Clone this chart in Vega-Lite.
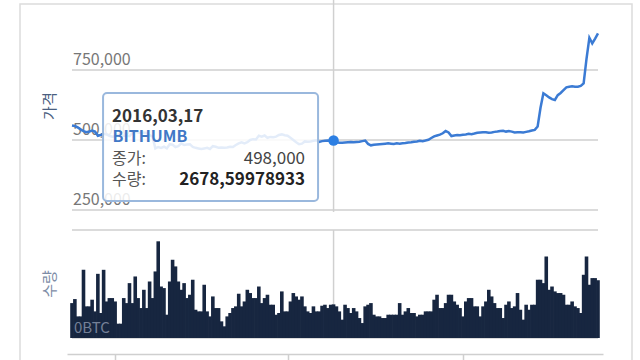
{
  "$schema": "https://vega.github.io/schema/vega-lite/v6.json",
  "width": 640,
  "height": 360,
  "autosize": {"type": "fit", "contains": "padding"},
  "padding": {"left": 20, "right": 8, "top": -1, "bottom": -1},
  "background": "white",
  "config": {
    "view": {"stroke": "#dcdcdc", "strokeWidth": 1.5},
    "font": "Noto Sans CJK KR",
    "text": {"font": "Noto Sans CJK KR"}
  },
  "datasets": {
    "daily": [
      {"date": "2015-12-17", "price": 552000, "volume": 2780},
      {"date": "2015-12-18", "price": 550000, "volume": 3100},
      {"date": "2015-12-19", "price": 545000, "volume": 1720},
      {"date": "2015-12-20", "price": 538000, "volume": 1720},
      {"date": "2015-12-21", "price": 532000, "volume": 5430},
      {"date": "2015-12-22", "price": 528000, "volume": 2520},
      {"date": "2015-12-23", "price": 530000, "volume": 2520},
      {"date": "2015-12-24", "price": 534000, "volume": 3050},
      {"date": "2015-12-25", "price": 530000, "volume": 2120},
      {"date": "2015-12-26", "price": 515000, "volume": 5110},
      {"date": "2015-12-27", "price": 518000, "volume": 1990},
      {"date": "2015-12-28", "price": 522000, "volume": 5430},
      {"date": "2015-12-29", "price": 520000, "volume": 2910},
      {"date": "2015-12-30", "price": 515000, "volume": 3180},
      {"date": "2015-12-31", "price": 512000, "volume": 3180},
      {"date": "2016-01-01", "price": 513000, "volume": 2910},
      {"date": "2016-01-02", "price": 515000, "volume": 1140},
      {"date": "2016-01-03", "price": 514000, "volume": 1140},
      {"date": "2016-01-04", "price": 516000, "volume": 3180},
      {"date": "2016-01-05", "price": 515000, "volume": 2780},
      {"date": "2016-01-06", "price": 514000, "volume": 4370},
      {"date": "2016-01-07", "price": 525000, "volume": 2780},
      {"date": "2016-01-08", "price": 530000, "volume": 4900},
      {"date": "2016-01-09", "price": 527000, "volume": 3180},
      {"date": "2016-01-10", "price": 526000, "volume": 2385},
      {"date": "2016-01-11", "price": 527000, "volume": 3840},
      {"date": "2016-01-12", "price": 525000, "volume": 2385},
      {"date": "2016-01-13", "price": 518000, "volume": 4500},
      {"date": "2016-01-14", "price": 512000, "volume": 3180},
      {"date": "2016-01-15", "price": 470000, "volume": 5300},
      {"date": "2016-01-16", "price": 475000, "volume": 7700},
      {"date": "2016-01-17", "price": 472000, "volume": 4100},
      {"date": "2016-01-18", "price": 476000, "volume": 3975},
      {"date": "2016-01-19", "price": 470000, "volume": 1855},
      {"date": "2016-01-20", "price": 485000, "volume": 4500},
      {"date": "2016-01-21", "price": 483000, "volume": 6230},
      {"date": "2016-01-22", "price": 475000, "volume": 5700},
      {"date": "2016-01-23", "price": 478000, "volume": 4500},
      {"date": "2016-01-24", "price": 488000, "volume": 3840},
      {"date": "2016-01-25", "price": 482000, "volume": 4370},
      {"date": "2016-01-26", "price": 484000, "volume": 3180},
      {"date": "2016-01-27", "price": 485000, "volume": 3445},
      {"date": "2016-01-28", "price": 475000, "volume": 4640},
      {"date": "2016-01-29", "price": 472000, "volume": 2250},
      {"date": "2016-01-30", "price": 470000, "volume": 2120},
      {"date": "2016-01-31", "price": 468000, "volume": 2120},
      {"date": "2016-02-01", "price": 470000, "volume": 4240},
      {"date": "2016-02-02", "price": 472000, "volume": 2120},
      {"date": "2016-02-03", "price": 468000, "volume": 1720},
      {"date": "2016-02-04", "price": 478000, "volume": 3310},
      {"date": "2016-02-05", "price": 476000, "volume": 2385},
      {"date": "2016-02-06", "price": 472000, "volume": 2385},
      {"date": "2016-02-07", "price": 473000, "volume": 1325},
      {"date": "2016-02-08", "price": 472000, "volume": 930},
      {"date": "2016-02-09", "price": 473000, "volume": 1720},
      {"date": "2016-02-10", "price": 476000, "volume": 1990},
      {"date": "2016-02-11", "price": 475000, "volume": 2385},
      {"date": "2016-02-12", "price": 482000, "volume": 2520},
      {"date": "2016-02-13", "price": 488000, "volume": 3525},
      {"date": "2016-02-14", "price": 492000, "volume": 2520},
      {"date": "2016-02-15", "price": 488000, "volume": 2910},
      {"date": "2016-02-16", "price": 492000, "volume": 3840},
      {"date": "2016-02-17", "price": 500000, "volume": 3580},
      {"date": "2016-02-18", "price": 503000, "volume": 3180},
      {"date": "2016-02-19", "price": 502000, "volume": 3180},
      {"date": "2016-02-20", "price": 515000, "volume": 4100},
      {"date": "2016-02-21", "price": 512000, "volume": 2780},
      {"date": "2016-02-22", "price": 516000, "volume": 3180},
      {"date": "2016-02-23", "price": 508000, "volume": 3445},
      {"date": "2016-02-24", "price": 511000, "volume": 2650},
      {"date": "2016-02-25", "price": 510000, "volume": 2650},
      {"date": "2016-02-26", "price": 512000, "volume": 1855},
      {"date": "2016-02-27", "price": 518000, "volume": 1990},
      {"date": "2016-02-28", "price": 520000, "volume": 3710},
      {"date": "2016-02-29", "price": 517000, "volume": 2120},
      {"date": "2016-03-01", "price": 515000, "volume": 2120},
      {"date": "2016-03-02", "price": 508000, "volume": 2910},
      {"date": "2016-03-03", "price": 500000, "volume": 3580},
      {"date": "2016-03-04", "price": 492000, "volume": 3310},
      {"date": "2016-03-05", "price": 485000, "volume": 3050},
      {"date": "2016-03-06", "price": 487000, "volume": 3310},
      {"date": "2016-03-07", "price": 495000, "volume": 2520},
      {"date": "2016-03-08", "price": 494000, "volume": 2120},
      {"date": "2016-03-09", "price": 495000, "volume": 1990},
      {"date": "2016-03-10", "price": 497000, "volume": 2520},
      {"date": "2016-03-11", "price": 499000, "volume": 2120},
      {"date": "2016-03-12", "price": 493000, "volume": 2120},
      {"date": "2016-03-13", "price": 496000, "volume": 2570},
      {"date": "2016-03-14", "price": 497000, "volume": 2650},
      {"date": "2016-03-15", "price": 498000, "volume": 2385},
      {"date": "2016-03-16", "price": 497000, "volume": 2650},
      {"date": "2016-03-17", "price": 498000, "volume": 2678.59978933},
      {"date": "2016-03-18", "price": 492000, "volume": 2520},
      {"date": "2016-03-19", "price": 490000, "volume": 2120},
      {"date": "2016-03-20", "price": 490000, "volume": 1460},
      {"date": "2016-03-21", "price": 491000, "volume": 2650},
      {"date": "2016-03-22", "price": 492000, "volume": 2385},
      {"date": "2016-03-23", "price": 493000, "volume": 1990},
      {"date": "2016-03-24", "price": 492000, "volume": 2385},
      {"date": "2016-03-25", "price": 493000, "volume": 2120},
      {"date": "2016-03-26", "price": 494000, "volume": 1590},
      {"date": "2016-03-27", "price": 496000, "volume": 1190},
      {"date": "2016-03-28", "price": 498000, "volume": 2520},
      {"date": "2016-03-29", "price": 486000, "volume": 2650},
      {"date": "2016-03-30", "price": 481000, "volume": 2780},
      {"date": "2016-03-31", "price": 483000, "volume": 1855},
      {"date": "2016-04-01", "price": 484000, "volume": 1720},
      {"date": "2016-04-02", "price": 485000, "volume": 1720},
      {"date": "2016-04-03", "price": 486000, "volume": 1590},
      {"date": "2016-04-04", "price": 487000, "volume": 1590},
      {"date": "2016-04-05", "price": 488000, "volume": 1855},
      {"date": "2016-04-06", "price": 487000, "volume": 1855},
      {"date": "2016-04-07", "price": 486000, "volume": 1855},
      {"date": "2016-04-08", "price": 488000, "volume": 1855},
      {"date": "2016-04-09", "price": 487000, "volume": 2780},
      {"date": "2016-04-10", "price": 488000, "volume": 1855},
      {"date": "2016-04-11", "price": 489000, "volume": 2120},
      {"date": "2016-04-12", "price": 491000, "volume": 2385},
      {"date": "2016-04-13", "price": 492000, "volume": 1990},
      {"date": "2016-04-14", "price": 494000, "volume": 1990},
      {"date": "2016-04-15", "price": 495000, "volume": 1720},
      {"date": "2016-04-16", "price": 497000, "volume": 1855},
      {"date": "2016-04-17", "price": 496000, "volume": 1855},
      {"date": "2016-04-18", "price": 498000, "volume": 2120},
      {"date": "2016-04-19", "price": 501000, "volume": 2120},
      {"date": "2016-04-20", "price": 507000, "volume": 2120},
      {"date": "2016-04-21", "price": 513000, "volume": 3050},
      {"date": "2016-04-22", "price": 516000, "volume": 3445},
      {"date": "2016-04-23", "price": 519000, "volume": 2385},
      {"date": "2016-04-24", "price": 524000, "volume": 2385},
      {"date": "2016-04-25", "price": 532000, "volume": 2780},
      {"date": "2016-04-26", "price": 527000, "volume": 3445},
      {"date": "2016-04-27", "price": 514000, "volume": 3445},
      {"date": "2016-04-28", "price": 516000, "volume": 2910},
      {"date": "2016-04-29", "price": 518000, "volume": 2650},
      {"date": "2016-04-30", "price": 517000, "volume": 2385},
      {"date": "2016-05-01", "price": 519000, "volume": 1720},
      {"date": "2016-05-02", "price": 520000, "volume": 2910},
      {"date": "2016-05-03", "price": 522000, "volume": 3180},
      {"date": "2016-05-04", "price": 521000, "volume": 3180},
      {"date": "2016-05-05", "price": 523000, "volume": 2520},
      {"date": "2016-05-06", "price": 526000, "volume": 2520},
      {"date": "2016-05-07", "price": 527000, "volume": 1720},
      {"date": "2016-05-08", "price": 528000, "volume": 2520},
      {"date": "2016-05-09", "price": 528000, "volume": 2910},
      {"date": "2016-05-10", "price": 526000, "volume": 3840},
      {"date": "2016-05-11", "price": 527000, "volume": 3310},
      {"date": "2016-05-12", "price": 529000, "volume": 2780},
      {"date": "2016-05-13", "price": 530000, "volume": 2385},
      {"date": "2016-05-14", "price": 532000, "volume": 2385},
      {"date": "2016-05-15", "price": 533000, "volume": 1590},
      {"date": "2016-05-16", "price": 530000, "volume": 2650},
      {"date": "2016-05-17", "price": 532000, "volume": 2910},
      {"date": "2016-05-18", "price": 530000, "volume": 2385},
      {"date": "2016-05-19", "price": 527000, "volume": 2520},
      {"date": "2016-05-20", "price": 528000, "volume": 3580},
      {"date": "2016-05-21", "price": 528000, "volume": 2250},
      {"date": "2016-05-22", "price": 527000, "volume": 1460},
      {"date": "2016-05-23", "price": 529000, "volume": 2650},
      {"date": "2016-05-24", "price": 531000, "volume": 2250},
      {"date": "2016-05-25", "price": 534000, "volume": 2650},
      {"date": "2016-05-26", "price": 536000, "volume": 2650},
      {"date": "2016-05-27", "price": 548000, "volume": 4640},
      {"date": "2016-05-28", "price": 615000, "volume": 4640},
      {"date": "2016-05-29", "price": 667000, "volume": 4370},
      {"date": "2016-05-30", "price": 660000, "volume": 6490},
      {"date": "2016-05-31", "price": 652000, "volume": 3840},
      {"date": "2016-06-01", "price": 646000, "volume": 4100},
      {"date": "2016-06-02", "price": 643000, "volume": 3710},
      {"date": "2016-06-03", "price": 660000, "volume": 3580},
      {"date": "2016-06-04", "price": 668000, "volume": 3580},
      {"date": "2016-06-05", "price": 678000, "volume": 3445},
      {"date": "2016-06-06", "price": 688000, "volume": 2650},
      {"date": "2016-06-07", "price": 690000, "volume": 2650},
      {"date": "2016-06-08", "price": 692000, "volume": 2910},
      {"date": "2016-06-09", "price": 690000, "volume": 2520},
      {"date": "2016-06-10", "price": 690000, "volume": 2385},
      {"date": "2016-06-11", "price": 693000, "volume": 1990},
      {"date": "2016-06-12", "price": 702000, "volume": 5035},
      {"date": "2016-06-13", "price": 790000, "volume": 6490},
      {"date": "2016-06-14", "price": 865000, "volume": 4240},
      {"date": "2016-06-15", "price": 845000, "volume": 4770},
      {"date": "2016-06-16", "price": 862000, "volume": 4770},
      {"date": "2016-06-17", "price": 881000, "volume": 4600}
    ],
    "priceTicks": [{"value": 250000}, {"value": 500000}, {"value": 750000}],
    "volumeTicks": [{"value": 0, "label": "0BTC"}, {"value": 8600, "label": ""}],
    "titles": [
      {"panel": "price", "title": "가격", "price": 621000, "volume": null},
      {"panel": "volume", "title": "수량", "price": null, "volume": 4300}
    ],
    "hover": [
      {"date": "2016-03-17", "exchange": "BITHUMB", "price": 498000, "volume": 2678.59978933, "volumeText": "2678,59978933"}
    ]
  },
  "layer": [
    {
      "layer": [
        {
          "data": {"name": "priceTicks"},
          "mark": {"type": "rule", "color": "#cfcfcf", "strokeWidth": 1.5},
          "encoding": {
            "x": {
              "datum": {"year": 2015, "month": 12, "date": 17, "utc": true},
              "type": "temporal",
              "scale": {
                "type": "utc",
                "domain": [{"year": 2015, "month": 12, "date": 17, "utc": true}, {"year": 2016, "month": 6, "date": 17, "utc": true}],
                "range": [47, 583]
              },
              "axis": {
                "orient": "bottom",
                "offset": -7,
                "title": null,
                "labels": false,
                "grid": false,
                "domainColor": "#cfcfcf",
                "domainWidth": 1.5,
                "tickColor": "#cfcfcf",
                "tickWidth": 1.5,
                "tickSize": 6,
                "values": [
                  {"year": 2016, "month": 1, "date": 1, "utc": true},
                  {"year": 2016, "month": 3, "date": 1, "utc": true},
                  {"year": 2016, "month": 5, "date": 1, "utc": true}
                ]
              }
            },
            "x2": {"datum": {"year": 2016, "month": 6, "date": 17, "utc": true}},
            "y": {
              "field": "value",
              "type": "quantitative",
              "scale": {"domain": [250000, 1000000], "range": [206, -4], "nice": false, "zero": false},
              "axis": null
            }
          }
        },
        {
          "data": {"name": "priceTicks"},
          "mark": {"type": "text", "align": "left", "baseline": "bottom", "dx": 1, "dy": -2, "fontSize": 16, "color": "#777777"},
          "encoding": {
            "x": {"datum": {"year": 2015, "month": 12, "date": 17, "utc": true}, "type": "temporal"},
            "y": {"field": "value", "type": "quantitative", "axis": null},
            "text": {"field": "value", "type": "quantitative", "format": ","}
          }
        },
        {
          "data": {"name": "titles"},
          "transform": [{"filter": "datum.panel === 'price'"}],
          "mark": {"type": "text", "angle": 270, "align": "center", "baseline": "middle", "dx": 0, "dy": -22.5, "fontSize": 15, "color": "#4a5e80"},
          "encoding": {
            "x": {"datum": {"year": 2015, "month": 12, "date": 17, "utc": true}, "type": "temporal"},
            "y": {"field": "price", "type": "quantitative", "axis": null},
            "text": {"field": "title", "type": "nominal"}
          }
        },
        {
          "data": {"name": "hover"},
          "mark": {"type": "rule", "color": "#d0d0d0", "strokeWidth": 1.5},
          "encoding": {
            "x": {"field": "date", "type": "temporal"},
            "y": {"datum": 243000, "type": "quantitative", "axis": null},
            "y2": {"datum": 1000000}
          }
        },
        {
          "data": {"name": "daily"},
          "mark": {"type": "line", "color": "#3b7bd4", "strokeWidth": 2.5, "interpolate": "linear"},
          "encoding": {
            "x": {"field": "date", "type": "temporal"},
            "y": {"field": "price", "type": "quantitative", "axis": null}
          }
        },
        {
          "data": {"name": "hover"},
          "mark": {"type": "circle", "color": "#2d7fe3", "size": 110, "opacity": 1},
          "encoding": {
            "x": {"field": "date", "type": "temporal"},
            "y": {"field": "price", "type": "quantitative", "axis": null}
          }
        },
        {
          "data": {"name": "hover"},
          "mark": {
            "type": "rect",
            "fill": "white",
            "fillOpacity": 0.86,
            "stroke": "#9ab8dd",
            "strokeWidth": 2,
            "cornerRadius": 4,
            "xOffset": -230.5,
            "x2Offset": -15.5,
            "yOffset": -47.6,
            "y2Offset": 60.4
          },
          "encoding": {
            "x": {"field": "date", "type": "temporal"},
            "x2": {"field": "date"},
            "y": {"field": "price", "type": "quantitative", "axis": null},
            "y2": {"field": "price"}
          }
        },
        {
          "data": {"name": "hover"},
          "mark": {"type": "text", "align": "left", "baseline": "alphabetic", "dx": -221.5, "dy": -18.6, "fontSize": 17, "fontWeight": "bold", "color": "#333333"},
          "encoding": {
            "x": {"field": "date", "type": "temporal"},
            "y": {"field": "price", "type": "quantitative", "axis": null},
            "text": {"field": "date", "timeUnit": "utcyearmonthdate", "type": "temporal", "format": "%Y,%m,%d"}
          }
        },
        {
          "data": {"name": "hover"},
          "mark": {"type": "text", "align": "left", "baseline": "alphabetic", "dx": -221, "dy": 1.4, "fontSize": 16, "fontWeight": "bold", "color": "#4178c6"},
          "encoding": {
            "x": {"field": "date", "type": "temporal"},
            "y": {"field": "price", "type": "quantitative", "axis": null},
            "text": {"field": "exchange", "type": "nominal"}
          }
        },
        {
          "data": {"name": "hover"},
          "mark": {"type": "text", "align": "left", "baseline": "alphabetic", "dx": -221.5, "dy": 23.4, "fontSize": 16, "color": "#555555", "text": "종가:"},
          "encoding": {
            "x": {"field": "date", "type": "temporal"},
            "y": {"field": "price", "type": "quantitative", "axis": null}
          }
        },
        {
          "data": {"name": "hover"},
          "mark": {"type": "text", "align": "right", "baseline": "alphabetic", "dx": -28.5, "dy": 23.4, "fontSize": 17, "color": "#444444"},
          "encoding": {
            "x": {"field": "date", "type": "temporal"},
            "y": {"field": "price", "type": "quantitative", "axis": null},
            "text": {"field": "price", "type": "quantitative", "format": ","}
          }
        },
        {
          "data": {"name": "hover"},
          "mark": {"type": "text", "align": "left", "baseline": "alphabetic", "dx": -221.5, "dy": 44.4, "fontSize": 16, "color": "#555555", "text": "수량:"},
          "encoding": {
            "x": {"field": "date", "type": "temporal"},
            "y": {"field": "price", "type": "quantitative", "axis": null}
          }
        },
        {
          "data": {"name": "hover"},
          "mark": {"type": "text", "align": "right", "baseline": "alphabetic", "dx": -28.5, "dy": 44.4, "fontSize": 17, "fontWeight": "bold", "color": "#222222"},
          "encoding": {
            "x": {"field": "date", "type": "temporal"},
            "y": {"field": "price", "type": "quantitative", "axis": null},
            "text": {"field": "volumeText", "type": "nominal"}
          }
        }
      ]
    },
    {
      "layer": [
        {
          "data": {"name": "volumeTicks"},
          "mark": {"type": "rule", "color": "#cfcfcf", "strokeWidth": 1.5},
          "encoding": {
            "x": {"datum": {"year": 2015, "month": 12, "date": 17, "utc": true}, "type": "temporal"},
            "x2": {"datum": {"year": 2016, "month": 6, "date": 17, "utc": true}},
            "y": {
              "field": "value",
              "type": "quantitative",
              "scale": {"domain": [0, 8600], "range": [334, 226], "nice": false, "zero": true},
              "axis": null
            }
          }
        },
        {
          "data": {"name": "titles"},
          "transform": [{"filter": "datum.panel === 'volume'"}],
          "mark": {"type": "text", "angle": 270, "align": "center", "baseline": "middle", "dx": 0, "dy": -22.5, "fontSize": 15, "color": "#7d8ca6"},
          "encoding": {
            "x": {"datum": {"year": 2015, "month": 12, "date": 17, "utc": true}, "type": "temporal"},
            "y": {"field": "volume", "type": "quantitative", "axis": null},
            "text": {"field": "title", "type": "nominal"}
          }
        },
        {
          "data": {"name": "hover"},
          "mark": {"type": "rule", "color": "#d0d0d0", "strokeWidth": 1.5},
          "encoding": {
            "x": {"field": "date", "type": "temporal"},
            "y": {"datum": 0, "type": "quantitative", "axis": null},
            "y2": {"datum": 8600}
          }
        },
        {
          "data": {"name": "daily"},
          "mark": {"type": "bar", "width": 3.6, "color": "#172640"},
          "encoding": {
            "x": {"field": "date", "type": "temporal"},
            "y": {"field": "volume", "type": "quantitative", "axis": null}
          }
        },
        {
          "data": {"name": "volumeTicks"},
          "mark": {"type": "text", "align": "left", "baseline": "bottom", "dx": 2, "dy": -2, "fontSize": 15, "color": "#7f8aa0", "opacity": 0.9},
          "encoding": {
            "x": {"datum": {"year": 2015, "month": 12, "date": 17, "utc": true}, "type": "temporal"},
            "y": {"field": "value", "type": "quantitative", "axis": null},
            "text": {"field": "label", "type": "nominal"}
          }
        }
      ]
    }
  ],
  "resolve": {"scale": {"y": "independent"}}
}
